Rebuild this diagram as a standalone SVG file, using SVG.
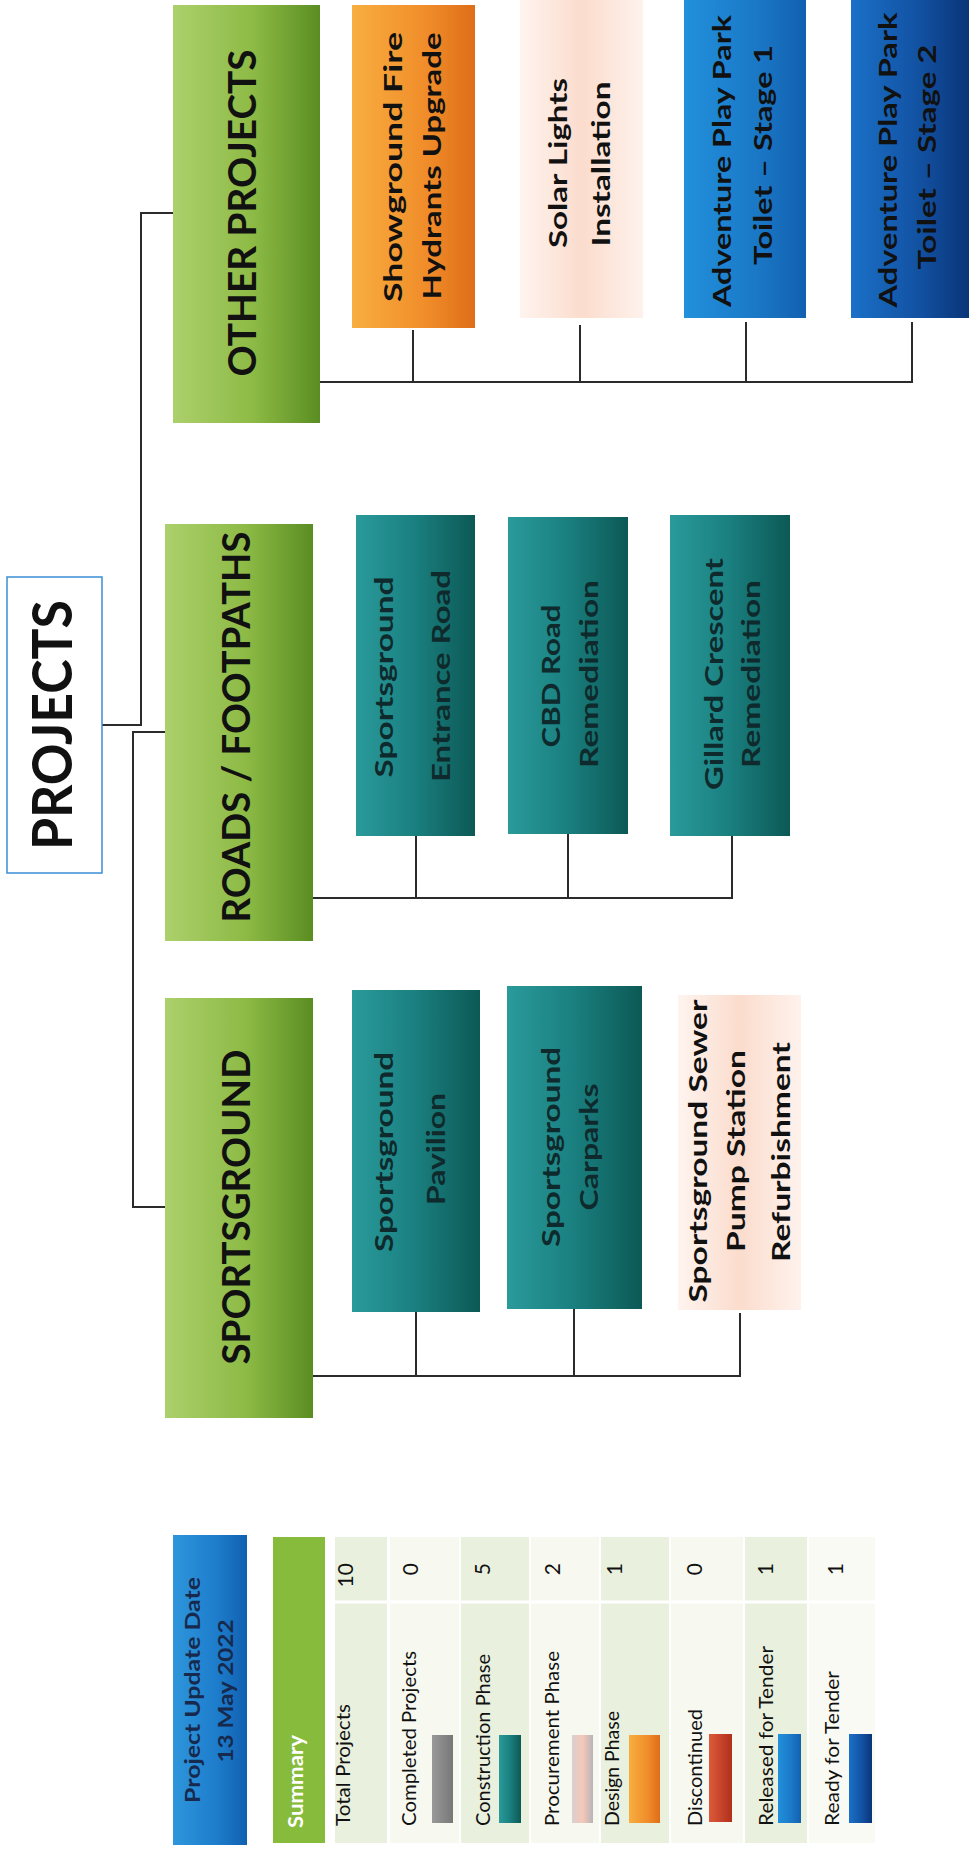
<svg xmlns="http://www.w3.org/2000/svg" width="969" height="1849" viewBox="0 0 969 1849">
<defs>
<linearGradient id="gGreen" x1="0" y1="0" x2="1" y2="0"><stop offset="0" stop-color="#acd06c"/><stop offset="0.55" stop-color="#8dba45"/><stop offset="1" stop-color="#5a8d22"/></linearGradient>
<linearGradient id="gTeal" x1="0" y1="0" x2="1" y2="0"><stop offset="0" stop-color="#2a9a9b"/><stop offset="0.5" stop-color="#1a7f7f"/><stop offset="1" stop-color="#0c5955"/></linearGradient>
<linearGradient id="gOrange" x1="0" y1="0" x2="1" y2="0"><stop offset="0" stop-color="#f8ae40"/><stop offset="0.6" stop-color="#f08d2a"/><stop offset="1" stop-color="#df6d18"/></linearGradient>
<linearGradient id="gPink" x1="0" y1="0" x2="1" y2="0"><stop offset="0" stop-color="#fef4ef"/><stop offset="0.5" stop-color="#fbdccd"/><stop offset="1" stop-color="#fef2ec"/></linearGradient>
<linearGradient id="gBlue1" x1="0" y1="0" x2="1" y2="0"><stop offset="0" stop-color="#2290dc"/><stop offset="0.6" stop-color="#1a78c6"/><stop offset="1" stop-color="#1260b0"/></linearGradient>
<linearGradient id="gBlue2" x1="0" y1="0" x2="1" y2="0"><stop offset="0" stop-color="#1a70c8"/><stop offset="0.6" stop-color="#1250a0"/><stop offset="1" stop-color="#0a3478"/></linearGradient>
<linearGradient id="gDate" x1="0" y1="0" x2="1" y2="0"><stop offset="0" stop-color="#2e96dc"/><stop offset="0.6" stop-color="#1d7ccb"/><stop offset="1" stop-color="#1160b0"/></linearGradient>
<linearGradient id="gGrey" x1="0" y1="0" x2="1" y2="0"><stop offset="0" stop-color="#999"/><stop offset="1" stop-color="#777"/></linearGradient>
<linearGradient id="gRed" x1="0" y1="0" x2="1" y2="0"><stop offset="0" stop-color="#dc5a3a"/><stop offset="1" stop-color="#b2301c"/></linearGradient>
<linearGradient id="gPinkSw" x1="0" y1="0" x2="1" y2="0"><stop offset="0" stop-color="#d8d0d0"/><stop offset="0.5" stop-color="#f6c8b8"/><stop offset="1" stop-color="#b8b4b8"/></linearGradient>
</defs>
<style>
.t{font-family:Lato,"Liberation Sans",sans-serif;}
.h{font-weight:bold;font-size:39px;fill:#111;}
.c{font-weight:bold;font-size:25px;fill:#111;}
.ct{font-weight:bold;font-size:25px;fill:#0f2a2c;}
.l{font-size:20px;fill:#111;}
.n{font-size:21px;fill:#111;}
.conn{stroke:#2b2b2b;stroke-width:2;fill:none;}
</style>
<rect width="969" height="1849" fill="#ffffff"/>

<g id="connectors">
<path class="conn" d="M102,725 H141 V213 H173"/>
<path class="conn" d="M165,732 H133 V1207 H165"/>
<path class="conn" d="M320,382 H912 V322 M413,330 V382 M580,325 V382 M746,322 V382"/>
<path class="conn" d="M313,898 H732 V836 M416,836 V898 M568,834 V898"/>
<path class="conn" d="M313,1376 H740 V1313 M416,1312 V1376 M574,1309 V1376"/>
</g>

<g id="projects">
<rect x="7" y="577" width="95" height="296" fill="#fff" stroke="#3a8ed6" stroke-width="1.5"/>
<text class="t" transform="translate(72,725) rotate(-90)" text-anchor="middle" font-weight="bold" font-size="55" fill="#111" textLength="250" lengthAdjust="spacingAndGlyphs">PROJECTS</text>
</g>

<g id="other-projects">
<rect x="173" y="5" width="147" height="418" fill="url(#gGreen)"/>
<text class="t h" transform="translate(256,213) rotate(-90)" text-anchor="middle" textLength="327" lengthAdjust="spacingAndGlyphs">OTHER PROJECTS</text>
</g>
<g id="roads-footpaths">
<rect x="165" y="524" width="148" height="417" fill="url(#gGreen)"/>
<text class="t h" transform="translate(250,727) rotate(-90)" text-anchor="middle" textLength="391" lengthAdjust="spacingAndGlyphs">ROADS / FOOTPATHS</text>
</g>
<g id="sportsground">
<rect x="165" y="998" width="148" height="420" fill="url(#gGreen)"/>
<text class="t h" transform="translate(250,1207) rotate(-90)" text-anchor="middle" textLength="315" lengthAdjust="spacingAndGlyphs">SPORTSGROUND</text>
</g>

<g id="showground-fire">
<rect x="352" y="5" width="123" height="323" fill="url(#gOrange)"/>
<text class="t c" transform="translate(402,167) rotate(-90)" text-anchor="middle" textLength="270" lengthAdjust="spacingAndGlyphs">Showground Fire</text>
<text class="t c" transform="translate(441,166) rotate(-90)" text-anchor="middle" textLength="267" lengthAdjust="spacingAndGlyphs">Hydrants Upgrade</text>
</g>
<g id="solar-lights">
<rect x="520" y="0" width="123" height="318" fill="url(#gPink)"/>
<text class="t c" transform="translate(567,163) rotate(-90)" text-anchor="middle" textLength="170" lengthAdjust="spacingAndGlyphs">Solar Lights</text>
<text class="t c" transform="translate(610,164) rotate(-90)" text-anchor="middle" textLength="165" lengthAdjust="spacingAndGlyphs">Installation</text>
</g>
<g id="adventure-1">
<rect x="684" y="0" width="122" height="318" fill="url(#gBlue1)"/>
<text class="t c" transform="translate(731,161) rotate(-90)" text-anchor="middle" textLength="292" lengthAdjust="spacingAndGlyphs">Adventure Play Park</text>
<text class="t c" transform="translate(772,155) rotate(-90)" text-anchor="middle" textLength="220" lengthAdjust="spacingAndGlyphs">Toilet – Stage 1</text>
</g>
<g id="adventure-2">
<rect x="851" y="0" width="118" height="318" fill="url(#gBlue2)"/>
<text class="t c" transform="translate(897,160) rotate(-90)" text-anchor="middle" textLength="295" lengthAdjust="spacingAndGlyphs">Adventure Play Park</text>
<text class="t c" transform="translate(936,157) rotate(-90)" text-anchor="middle" textLength="225" lengthAdjust="spacingAndGlyphs">Toilet – Stage 2</text>
</g>

<g id="entrance-road">
<rect x="356" y="515" width="119" height="321" fill="url(#gTeal)"/>
<text class="t ct" transform="translate(393,677) rotate(-90)" text-anchor="middle" textLength="201" lengthAdjust="spacingAndGlyphs">Sportsground</text>
<text class="t ct" transform="translate(450,676) rotate(-90)" text-anchor="middle" textLength="212" lengthAdjust="spacingAndGlyphs">Entrance Road</text>
</g>
<g id="cbd-road">
<rect x="508" y="517" width="120" height="317" fill="url(#gTeal)"/>
<text class="t ct" transform="translate(560,676) rotate(-90)" text-anchor="middle" textLength="143" lengthAdjust="spacingAndGlyphs">CBD Road</text>
<text class="t ct" transform="translate(598,674) rotate(-90)" text-anchor="middle" textLength="188" lengthAdjust="spacingAndGlyphs">Remediation</text>
</g>
<g id="gillard-crescent">
<rect x="670" y="515" width="120" height="321" fill="url(#gTeal)"/>
<text class="t ct" transform="translate(723,674) rotate(-90)" text-anchor="middle" textLength="232" lengthAdjust="spacingAndGlyphs">Gillard Crescent</text>
<text class="t ct" transform="translate(760,674) rotate(-90)" text-anchor="middle" textLength="188" lengthAdjust="spacingAndGlyphs">Remediation</text>
</g>

<g id="pavilion">
<rect x="352" y="990" width="128" height="322" fill="url(#gTeal)"/>
<text class="t ct" transform="translate(393,1152) rotate(-90)" text-anchor="middle" textLength="200" lengthAdjust="spacingAndGlyphs">Sportsground</text>
<text class="t ct" transform="translate(445,1149) rotate(-90)" text-anchor="middle" textLength="112" lengthAdjust="spacingAndGlyphs">Pavilion</text>
</g>
<g id="carparks">
<rect x="507" y="986" width="135" height="323" fill="url(#gTeal)"/>
<text class="t ct" transform="translate(560,1147) rotate(-90)" text-anchor="middle" textLength="200" lengthAdjust="spacingAndGlyphs">Sportsground</text>
<text class="t ct" transform="translate(598,1147) rotate(-90)" text-anchor="middle" textLength="127" lengthAdjust="spacingAndGlyphs">Carparks</text>
</g>
<g id="sewer-pump">
<rect x="678" y="995" width="123" height="315" fill="url(#gPink)"/>
<text class="t c" transform="translate(707,1151) rotate(-90)" text-anchor="middle" textLength="303" lengthAdjust="spacingAndGlyphs">Sportsground Sewer</text>
<text class="t c" transform="translate(745,1151) rotate(-90)" text-anchor="middle" textLength="202" lengthAdjust="spacingAndGlyphs">Pump Station</text>
<text class="t c" transform="translate(790,1152) rotate(-90)" text-anchor="middle" textLength="220" lengthAdjust="spacingAndGlyphs">Refurbishment</text>
</g>

<g id="legend">
<rect x="173" y="1535" width="74" height="310" fill="url(#gDate)"/>
<text class="t" transform="translate(200,1690) rotate(-90)" text-anchor="middle" font-size="21" font-weight="bold" fill="#172a4e" textLength="226" lengthAdjust="spacingAndGlyphs">Project Update Date</text>
<text class="t" transform="translate(233,1691) rotate(-90)" text-anchor="middle" font-size="21" font-weight="bold" fill="#172a4e" textLength="143" lengthAdjust="spacingAndGlyphs">13 May 2022</text>
<rect x="273" y="1537" width="52" height="306" fill="#86bb3c"/>
<text class="t" transform="translate(303,1828) rotate(-90)" font-size="21" font-weight="bold" fill="#ffffff" textLength="93" lengthAdjust="spacingAndGlyphs">Summary</text>

<rect x="335" y="1537" width="52" height="306" fill="#e9f0dd"/>
<rect x="390" y="1537" width="69" height="306" fill="#f7f9f0"/>
<rect x="461" y="1537" width="68" height="306" fill="#e9f0dd"/>
<rect x="531" y="1537" width="68" height="306" fill="#f7f9f0"/>
<rect x="601" y="1537" width="68" height="306" fill="#e9f0dd"/>
<rect x="671" y="1537" width="72" height="306" fill="#f7f9f0"/>
<rect x="745" y="1537" width="62" height="306" fill="#e9f0dd"/>
<rect x="809" y="1537" width="66" height="306" fill="#f9faf3"/>
<line x1="335" y1="1602" x2="875" y2="1602" stroke="#ffffff" stroke-width="3"/>

<rect x="432" y="1735" width="21" height="88" fill="url(#gGrey)"/>
<rect x="499" y="1735" width="22" height="88" fill="url(#gTeal)"/>
<rect x="572" y="1735" width="21" height="88" fill="url(#gPinkSw)"/>
<rect x="629" y="1735" width="31" height="88" fill="url(#gOrange)"/>
<rect x="709" y="1734" width="23" height="88" fill="url(#gRed)"/>
<rect x="778" y="1734" width="23" height="89" fill="url(#gBlue1)"/>
<rect x="849" y="1734" width="23" height="89" fill="url(#gBlue2)"/>

<text class="t l" transform="translate(350,1826) rotate(-90)" textLength="122" lengthAdjust="spacingAndGlyphs">Total Projects</text>
<text class="t l" transform="translate(416,1826) rotate(-90)" textLength="175" lengthAdjust="spacingAndGlyphs">Completed Projects</text>
<text class="t l" transform="translate(490,1826) rotate(-90)" textLength="172" lengthAdjust="spacingAndGlyphs">Construction Phase</text>
<text class="t l" transform="translate(559,1826) rotate(-90)" textLength="175" lengthAdjust="spacingAndGlyphs">Procurement Phase</text>
<text class="t l" transform="translate(619,1826) rotate(-90)" textLength="115" lengthAdjust="spacingAndGlyphs">Design Phase</text>
<text class="t l" transform="translate(702,1826) rotate(-90)" textLength="117" lengthAdjust="spacingAndGlyphs">Discontinued</text>
<text class="t l" transform="translate(773,1826) rotate(-90)" textLength="180" lengthAdjust="spacingAndGlyphs">Released for Tender</text>
<text class="t l" transform="translate(839,1826) rotate(-90)" textLength="155" lengthAdjust="spacingAndGlyphs">Ready for Tender</text>

<text class="t n" transform="translate(353,1563) rotate(-90)" text-anchor="end">10</text>
<text class="t n" transform="translate(418,1563) rotate(-90)" text-anchor="end">0</text>
<text class="t n" transform="translate(490,1563) rotate(-90)" text-anchor="end">5</text>
<text class="t n" transform="translate(560,1563) rotate(-90)" text-anchor="end">2</text>
<text class="t n" transform="translate(622,1563) rotate(-90)" text-anchor="end">1</text>
<text class="t n" transform="translate(702,1563) rotate(-90)" text-anchor="end">0</text>
<text class="t n" transform="translate(773,1563) rotate(-90)" text-anchor="end">1</text>
<text class="t n" transform="translate(843,1563) rotate(-90)" text-anchor="end">1</text>
</g>
</svg>
